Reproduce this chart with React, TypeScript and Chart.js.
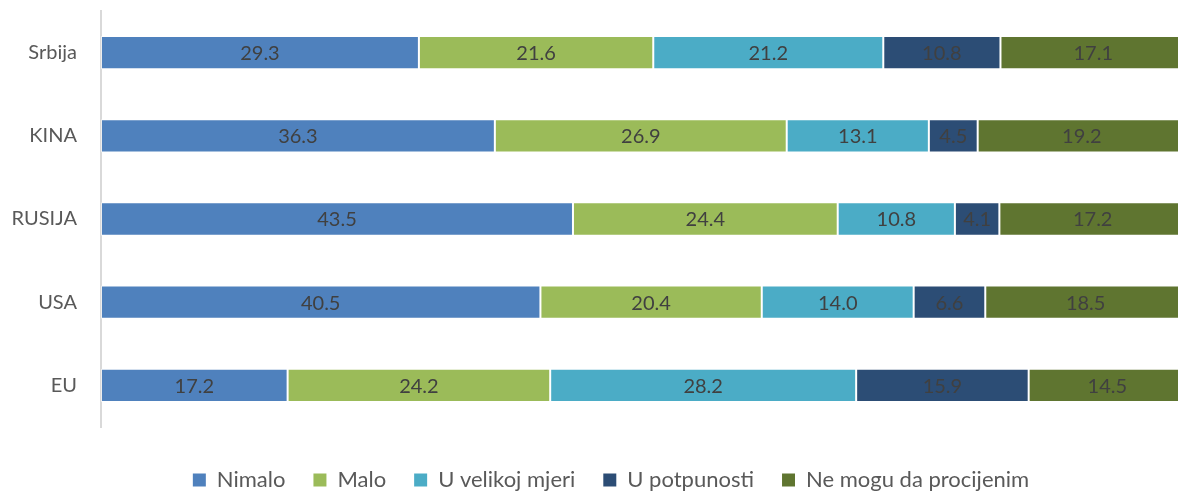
import React, { useEffect, useRef } from "react";
import { Chart, registerables } from "chart.js";

Chart.register(...registerables);

const categories = ["Srbija", "KINA", "RUSIJA", "USA", "EU"];
const seriesNames = ["Nimalo", "Malo", "U velikoj mjeri", "U potpunosti", "Ne mogu da procijenim"];
const nimalo = [29.3, 36.3, 43.5, 40.5, 17.2];
const malo = [21.6, 26.9, 24.4, 20.4, 24.2];
const uVelikojMjeri = [21.2, 13.1, 10.8, 14.0, 28.2];
const uPotpunosti = [10.8, 4.5, 4.1, 6.6, 15.9];
const neMogu = [17.1, 19.2, 17.2, 18.5, 14.5];
const colors = ["#4F81BD", "#9BBB59", "#4BACC6", "#2C4D75", "#5F7530"];

const FONT = "Lato, 'Noto Sans', sans-serif";

const labelPlugin = {
  id: "segLabels",
  afterDatasetsDraw(chart: any) {
    const ctx = chart.ctx;
    ctx.save();
    ctx.font = `20px ${FONT}`;
    ctx.fillStyle = "#404040";
    ctx.textAlign = "center";
    ctx.textBaseline = "middle";
    chart.data.datasets.forEach((ds: any, i: number) => {
      const meta = chart.getDatasetMeta(i);
      meta.data.forEach((el: any, j: number) => {
        const v = ds.data[j];
        const cx = (el.x + el.base) / 2;
        ctx.fillText(Number(v).toFixed(1), cx, el.y + 1);
      });
    });
    ctx.restore();
  },
};

const legendShift = {
  id: "legendShift",
  afterLayout(chart: any) {
    const lg = chart.legend;
    if (!lg) return;
    const dx = 18;
    const dy = 14;
    lg.left += dx;
    lg.right += dx;
    lg.top += dy;
    lg.bottom += dy;
  },
};

export default function App() {
  const ref = useRef<HTMLCanvasElement | null>(null);
  useEffect(() => {
    if (!ref.current) return;
    const all = [nimalo, malo, uVelikojMjeri, uPotpunosti, neMogu];
    const chart = new Chart(ref.current, {
      type: "bar",
      data: {
        labels: categories,
        datasets: all.map((d, i) => ({
          label: seriesNames[i],
          data: d,
          backgroundColor: colors[i],
          borderColor: "rgba(255,255,255,0.55)",
          borderWidth: 1,
          borderSkipped: false,
          barPercentage: 0.4,
          categoryPercentage: 1,
        })),
      },
      options: {
        indexAxis: "y",
        animation: false,
        responsive: false,
        layout: { padding: { top: 11, left: 0, right: 0, bottom: 4 } },
        scales: {
          x: {
            stacked: true,
            min: 0,
            max: 100,
            display: false,
          },
          y: {
            stacked: true,
            grid: { display: false, drawTicks: true, tickLength: 24 },
            border: { display: true, color: "#D9D9D9", width: 2 },
            ticks: { color: "#595959", font: { family: FONT, size: 20, lineHeight: 1 }, padding: 0 },
            afterFit: (scale: any) => {
              scale.width = 101;
            },
          },
        },
        plugins: {
          legend: {
            position: "bottom",
            labels: {
              boxWidth: 13,
              boxHeight: 13,
              padding: 28,
              color: "#595959",
              font: { family: FONT, size: 22 },
              generateLabels: (c: any) =>
                Chart.defaults.plugins.legend.labels.generateLabels(c).map((it: any) => ({
                  ...it,
                  lineWidth: 0,
                  strokeStyle: "rgba(0,0,0,0)",
                })),
            },
          },
          tooltip: { enabled: false },
        },
      },
      plugins: [labelPlugin, legendShift],
    });
    return () => chart.destroy();
  }, []);
  return (
    <div style={{ position: "absolute", left: 0, top: 0, width: 1178, height: 491, overflow: "hidden", background: "#fff" }}>
      <canvas ref={ref} width={1186} height={491} style={{ display: "block" }} />
    </div>
  );
}
